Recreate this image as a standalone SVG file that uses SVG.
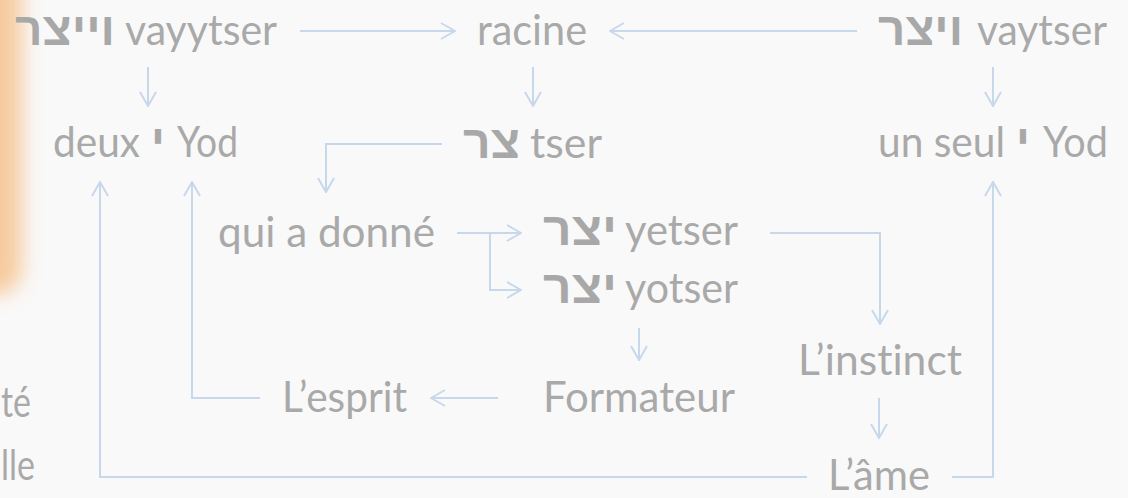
<svg xmlns="http://www.w3.org/2000/svg" width="1128" height="498" viewBox="0 0 1128 498">
<style>
.t{font-family:Lato,"Open Sans",sans-serif;font-size:42px;fill:#a9a9a9;font-variant-ligatures:none}
.h{font-family:"Liberation Sans","DejaVu Sans",sans-serif;font-size:46px;font-weight:bold;fill:#a8a8a8}
.c{fill:none;stroke:#c8d8ec;stroke-width:2;marker-end:url(#ah)}
</style>
<defs>
<marker id="ah" viewBox="0 0 16 18" refX="15" refY="9" markerWidth="16" markerHeight="18" markerUnits="userSpaceOnUse" orient="auto">
<path d="M1,1 L15,9 L1,17" fill="none" stroke="#c8d8ec" stroke-width="2"/>
</marker>
<filter id="blur" x="-1" y="-1" width="3" height="3"><feGaussianBlur stdDeviation="10"/></filter>
</defs>
<rect width="1128" height="498" fill="#f9f9f9"/>
<rect x="-70" y="-40" width="92" height="335" rx="26" fill="#f7c089" opacity="0.8" filter="url(#blur)"/>
<g id="connectors">
<path class="c" d="M300,31 H455"/>
<path class="c" d="M857,31 H610"/>
<path class="c" d="M148,67 V106"/>
<path class="c" d="M533,67 V106"/>
<path class="c" d="M993,67 V106"/>
<path class="c" d="M442,144 H326 V192"/>
<path class="c" d="M457,233 H521"/>
<path class="c" d="M490,233 V290 H521"/>
<path class="c" d="M770,233 H880 V324"/>
<path class="c" d="M639,328 V360"/>
<path class="c" d="M498,398 H431"/>
<path class="c" d="M260,398 H192 V182"/>
<path class="c" d="M879,398 V438"/>
<path class="c" d="M807,477 H100 V182"/>
<path class="c" d="M952,477 H993 V182"/>
</g>
<g id="vayytser"><text class="h" x="15" y="45" textLength="100" lengthAdjust="spacingAndGlyphs">וייצר</text><text class="t" x="125" y="45" textLength="152" lengthAdjust="spacingAndGlyphs">vayytser</text></g>
<g id="racine"><text class="t" x="477" y="45" textLength="110" lengthAdjust="spacingAndGlyphs">racine</text></g>
<g id="vaytser"><text class="h" x="878" y="45" textLength="85" lengthAdjust="spacingAndGlyphs">ויצר</text><text class="t" x="977" y="45" textLength="130" lengthAdjust="spacingAndGlyphs">vaytser</text></g>
<g id="deux-yod"><text class="t" x="53" y="157" textLength="87" lengthAdjust="spacingAndGlyphs">deux</text><text class="h" x="151" y="157">י</text><text class="t" x="177" y="157" textLength="61" lengthAdjust="spacingAndGlyphs">Yod</text></g>
<g id="tser"><text class="h" x="463" y="158" textLength="57" lengthAdjust="spacingAndGlyphs">צר</text><text class="t" x="530" y="158" textLength="72" lengthAdjust="spacingAndGlyphs">tser</text></g>
<g id="un-seul-yod"><text class="t" x="878" y="157" textLength="127" lengthAdjust="spacingAndGlyphs">un seul</text><text class="h" x="1016" y="157">י</text><text class="t" x="1043" y="157" textLength="65" lengthAdjust="spacingAndGlyphs">Yod</text></g>
<g id="qui-a-donne"><text class="t" x="218" y="247" textLength="217" lengthAdjust="spacingAndGlyphs">qui a donné</text></g>
<g id="yetser"><text class="h" x="543" y="245" textLength="74" lengthAdjust="spacingAndGlyphs">יצר</text><text class="t" x="625" y="245" textLength="113" lengthAdjust="spacingAndGlyphs">yetser</text></g>
<g id="yotser"><text class="h" x="543" y="303" textLength="74" lengthAdjust="spacingAndGlyphs">יצר</text><text class="t" x="625" y="303" textLength="113" lengthAdjust="spacingAndGlyphs">yotser</text></g>
<g id="instinct"><text class="t" x="798" y="375" textLength="164" lengthAdjust="spacingAndGlyphs">L’instinct</text></g>
<g id="esprit"><text class="t" x="282" y="412" textLength="125" lengthAdjust="spacingAndGlyphs">L’esprit</text></g>
<g id="formateur"><text class="t" x="543" y="412" textLength="192" lengthAdjust="spacingAndGlyphs">Formateur</text></g>
<g id="ame"><text class="t" x="828" y="490" textLength="102" lengthAdjust="spacingAndGlyphs">L’âme</text></g>
<g id="left-partial"><text class="t" x="1" y="417" textLength="30" lengthAdjust="spacingAndGlyphs">té</text><text class="t" x="1" y="480" textLength="34" lengthAdjust="spacingAndGlyphs">lle</text></g>
</svg>
